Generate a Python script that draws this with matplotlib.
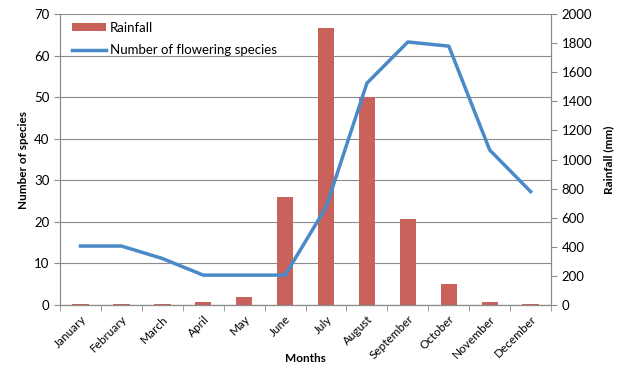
import numpy as np
import matplotlib.pyplot as plt
from matplotlib.ticker import FixedLocator

months = ["January", "February", "March", "April", "May", "June", "July",
          "August", "September", "October", "November", "December"]
rainfall = [10, 10, 10, 18, 53, 744, 1905, 1432, 593, 146, 23, 10]
species = [14.2, 14.2, 11.2, 7.2, 7.2, 7.2, 23.5, 53.4, 63.3, 62.3, 37.3, 27.3]

plt.rcParams['font.family'] = ['Lato', 'DejaVu Sans']
grey = '#8c8c8c'

fig = plt.figure(figsize=(6.22, 3.72), dpi=100)
ax = fig.add_axes([0.0965, 0.180, 0.7895, 0.782])
ax2 = ax.twinx()
ax3 = ax.twinx()

x = np.arange(len(months))

# left axis: grid + ticks
ax.set_ylim(0, 70)
ax.set_yticks(range(0, 71, 10))
ax.yaxis.grid(True, color=grey, lw=0.8)
ax.set_axisbelow(True)
ax.set_xlim(-0.5, len(months) - 0.5)
ax.set_xticks(x)
ax.set_xticklabels(months, rotation=45, ha='right', rotation_mode='anchor')
ax.xaxis.set_minor_locator(FixedLocator(np.arange(-0.5, len(months), 1)))
ax.tick_params(axis='x', which='major', length=0, labelsize=8.5, pad=6)
ax.tick_params(axis='x', which='minor', length=4, color=grey, direction='out')
ax.tick_params(axis='y', length=4, color=grey, labelsize=9.5)
ax.set_ylabel('Number of species', fontsize=8.5, fontweight='bold')
ax.set_xlabel('Months', fontsize=8.5, fontweight='bold', labelpad=-6)

# right axis: rainfall bars
bars = ax2.bar(x, rainfall, width=0.4, color='#C8625A', label='Rainfall', zorder=2)
ax2.set_ylim(0, 2000)
ax2.set_yticks(range(0, 2001, 200))
ax2.tick_params(axis='y', length=4, color=grey, labelsize=9.5)
ax2.set_ylabel('Rainfall (mm)', fontsize=8.5, fontweight='bold', rotation=90, labelpad=8)

# line on species scale
line, = ax3.plot(x, species, color='#4A8AC9', lw=2.5, label='Number of flowering species')
ax3.set_ylim(0, 70)
ax3.set_yticks([])

for a in (ax, ax2, ax3):
    a.spines['top'].set_visible(False)
    for s in ('left', 'right', 'bottom'):
        a.spines[s].set_color(grey)
ax3.spines['left'].set_visible(False)
ax3.spines['right'].set_visible(False)

ax3.legend([bars, line], ['Rainfall', 'Number of flowering species'],
           loc='upper left', bbox_to_anchor=(0.0, 1.015), frameon=False,
           fontsize=9.5, handlelength=2.6, handletextpad=0.3, labelspacing=0.8,
           handleheight=0.5)

fig.savefig('out.png', dpi=100)
